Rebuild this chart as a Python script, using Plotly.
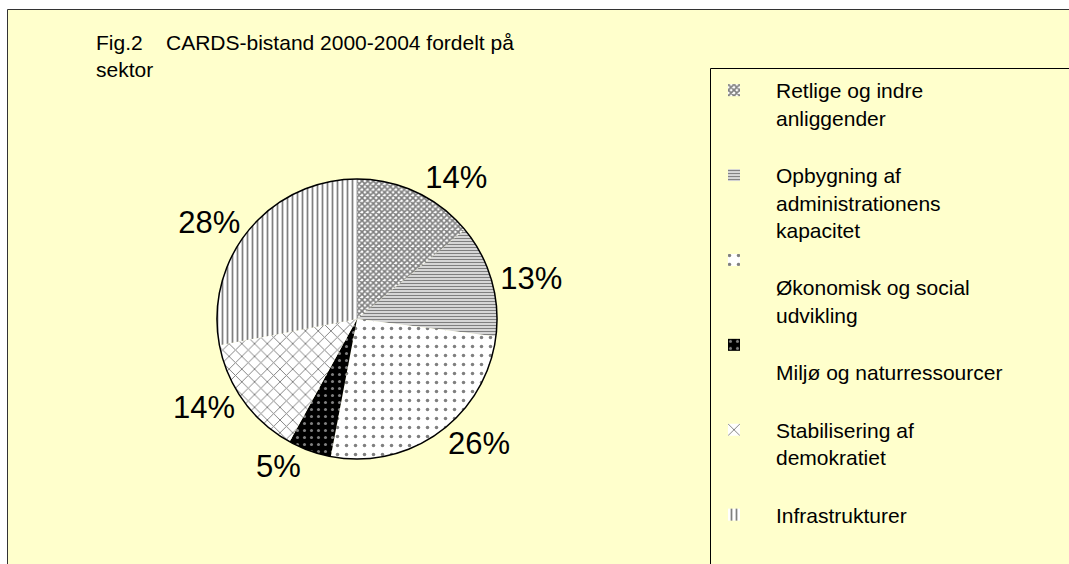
import plotly.graph_objects as go

W, H = 1069, 564

sectors = [
    "Retlige og indre<br>anliggender<br>",
    "Opbygning af<br>administrationens<br>kapacitet",
    "<br>Økonomisk og social<br>udvikling",
    "<br>Miljø og naturressourcer<br>",
    "Stabilisering af<br>demokratiet<br>",
    "Infrastrukturer",
]
shares = [14, 13, 26, 5, 14, 28]
total = [sum(shares)]

pattern_shapes = ["x", "-", ".", ".", "x", "|"]
pattern_bg = ["white", "white", "white", "black", "white", "white"]
pattern_fg = ["black", "black", "black", "white", "black", "black"]
pattern_size = [4, 3, 9, 7, 9, 5]
pattern_solidity = [0.65, 0.55, 0.12, 0.15, 0.2, 0.35]


def px_x(x):
    return x / W


def px_y(y):
    return 1 - y / H


cx, cy, r = 357, 319, 140
dom_x = [px_x(cx - r), px_x(cx + r)]
dom_y = [px_y(cy + r), px_y(cy - r)]

fig = go.Figure()
fig.add_trace(go.Pie(
    labels=sectors,
    values=shares,
    sort=False,
    direction="clockwise",
    rotation=0,
    domain=dict(x=dom_x, y=dom_y),
    textinfo="percent",
    texttemplate="%{percent:.0%}",
    textposition="outside",
    textfont=dict(family="Liberation Sans, Arial", size=31, color="black"),
    marker=dict(
        colors=pattern_bg,
        line=dict(width=0),
        pattern=dict(shape=pattern_shapes, bgcolor=pattern_bg, fgcolor=pattern_fg,
                     size=pattern_size, solidity=pattern_solidity, fillmode="overlay"),
    ),
    hoverinfo="label+percent",
))
fig.add_trace(go.Pie(
    labels=["Total"],
    values=total,
    domain=dict(x=dom_x, y=dom_y),
    textinfo="none",
    showlegend=False,
    hoverinfo="skip",
    marker=dict(colors=["rgba(0,0,0,0)"], line=dict(color="black", width=1.5)),
))

fig.update_layout(
    width=W, height=H,
    margin=dict(l=0, r=0, t=0, b=0),
    paper_bgcolor="white",
    plot_bgcolor="rgba(0,0,0,0)",
    font=dict(family="Liberation Sans, Arial", size=21, color="black"),
    legend=dict(
        x=692 / W, xanchor="left",
        y=1 - 70 / H, yanchor="top",
        bgcolor="rgba(0,0,0,0)",
        borderwidth=0,
        valign="top",
        itemwidth=74,
        font=dict(size=21, color="black"),
        traceorder="normal",
    ),
    annotations=[
        dict(text="Fig.2\u00a0\u00a0\u00a0 CARDS-bistand 2000-2004 fordelt på<br>sektor",
             xref="paper", yref="paper", x=px_x(94), y=px_y(29),
             xanchor="left", yanchor="top", align="left", showarrow=False,
             font=dict(size=21, color="black")),
    ],
    shapes=[
        dict(type="rect", xref="paper", yref="paper", layer="below",
             x0=px_x(7.5), x1=1.05, y0=-0.05, y1=px_y(9.5),
             fillcolor="#FFFFCC", line=dict(color="#333333", width=1)),
        dict(type="rect", xref="paper", yref="paper", layer="below",
             x0=px_x(710.5), x1=1.05, y0=-0.05, y1=px_y(68.5),
             fillcolor="#FFFFCC", line=dict(color="black", width=1)),
    ],
)

fig.write_html("out.html", config={"displayModeBar": False},
               post_script="document.body.style.margin='0';")
